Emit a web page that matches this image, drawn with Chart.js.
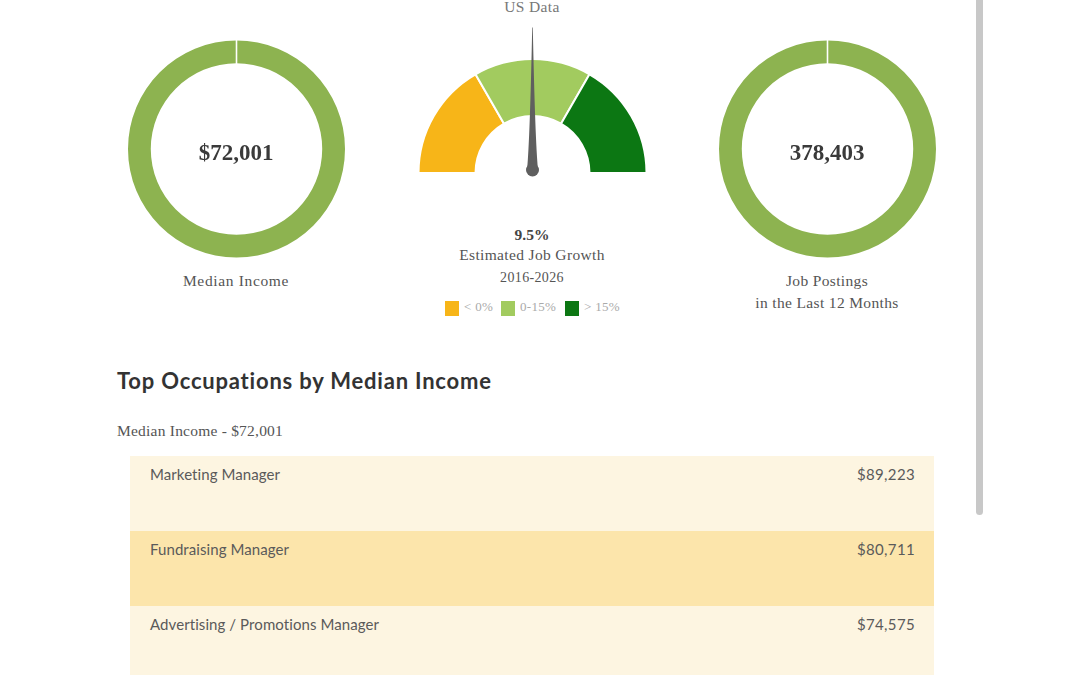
<!DOCTYPE html>
<html>
<head>
<meta charset="utf-8">
<script src="https://cdn.jsdelivr.net/npm/chart.js@4/dist/chart.umd.js"></script>
<style>
  html, body { margin: 0; width: 1080px; height: 675px; overflow: hidden; background: #fff; }
  .txt { position: absolute; white-space: nowrap; font-family: "Liberation Serif", serif; color: #555; font-size: 15.5px; letter-spacing: .35px; }
  .ctr { transform: translateX(-50%); text-align: center; }
  .big { font-size: 23px; font-weight: bold; color: #3a3a3a; letter-spacing: 0; }
  .sans { font-family: Lato, sans-serif; }
  canvas { position: absolute; }
  .swatch { position: absolute; top: 301px; width: 14px; height: 15px; }
  .leg { position: absolute; top: 299px; font: 13px "Liberation Serif", serif; letter-spacing: .3px; color: #aaa; white-space: nowrap; }
  .row { position: absolute; left: 130px; width: 804px; height: 75px; }
  .row span { position: absolute; top: 9px; font: 15px Lato, sans-serif; letter-spacing: .08px; color: #5a5a5a; }
  .row span.val { letter-spacing: .35px; }
  #scroll { position: absolute; left: 976px; top: 0; width: 7px; height: 515px; background: #c8c8c8; border-radius: 0 0 4px 4px; }
</style>
</head>
<body>
<canvas id="incomeChart" style="left:128px;top:40px"></canvas>
<canvas id="growthChart" style="left:417px;top:27px"></canvas>
<canvas id="postingsChart" style="left:719px;top:40px"></canvas>

<div class="txt ctr" style="left:532px;top:0;line-height:13px;color:#777">US Data</div>
<div class="txt ctr big" style="left:236px;top:140px">$72,001</div>
<div class="txt ctr" style="left:236px;top:272px;letter-spacing:.65px">Median Income</div>
<div class="txt ctr" style="left:532px;top:226px;font-weight:bold;color:#444;letter-spacing:0">9.5%</div>
<div class="txt ctr" style="left:532px;top:246px">Estimated Job Growth</div>
<div class="txt ctr" style="left:532px;top:270px;font-size:14px">2016-2026</div>
<div class="txt ctr big" style="left:827px;top:140px">378,403</div>
<div class="txt ctr" style="left:827px;top:270px;line-height:22px">Job Postings<br>in the Last 12 Months</div>
<div id="legend"></div>

<div class="txt sans" style="left:117px;top:367px;font-size:22px;font-weight:bold;color:#333;letter-spacing:.8px">Top Occupations by Median Income</div>
<div class="txt" style="left:117px;top:422px;letter-spacing:.22px">Median Income - $72,001</div>
<div id="rows"></div>
<div id="scroll"></div>

<script>
const occupations = ['Marketing Manager', 'Fundraising Manager', 'Advertising / Promotions Manager'];
const incomes = ['$89,223', '$80,711', '$74,575'];

const medianIncome = [72001];
const jobPostings = [378403];

const growthLabels = ['< 0%', '0-15%', '> 15%'];
const growthBands = [1, 1, 1];
const growthColors = ['#f7b518', '#a2cb5f', '#0c7713'];
const legendLeft = [445, 501, 565];
// where the needle sits on the gauge, 0 to 1
const needlePosition = 0.5;

const GREEN = '#8db350';

// filas de la tabla
const rowsBox = document.getElementById('rows');
occupations.forEach((nome, i) => {
  const row = document.createElement('div');
  row.className = 'row';
  row.style.top = (456 + i * 75) + 'px';
  row.style.background = i % 2 ? '#fce5ab' : '#fdf5e1';
  row.innerHTML = `<span style="left:20px">${nome}</span><span class="val" style="right:19px">${incomes[i]}</span>`;
  rowsBox.appendChild(row);
});

// legenda do medidor
const legendBox = document.getElementById('legend');
growthLabels.forEach((label, i) => {
  const sw = document.createElement('div');
  sw.className = 'swatch';
  sw.style.left = legendLeft[i] + 'px';
  sw.style.background = growthColors[i];
  legendBox.appendChild(sw);
  const t = document.createElement('div');
  t.className = 'leg';
  t.style.left = (legendLeft[i] + 19) + 'px';
  t.textContent = label;
  legendBox.appendChild(t);
});

function sizeCanvas(id, w, h) {
  const c = document.getElementById(id);
  c.style.width = w + 'px';
  c.style.height = h + 'px';
  return c;
}

// the thin white cut at 12 o'clock
const seam = {
  id: 'seam',
  afterDatasetsDraw(chart) {
    const arc = chart.getDatasetMeta(0).data[0];
    const ctx = chart.ctx;
    ctx.save();
    ctx.strokeStyle = '#fff';
    ctx.lineWidth = 1.6;
    ctx.beginPath();
    ctx.moveTo(arc.x, arc.y - arc.outerRadius - 1);
    ctx.lineTo(arc.x, arc.y - arc.innerRadius + 1);
    ctx.stroke();
    ctx.restore();
  }
};

const needle = {
  id: 'needle',
  afterDatasetsDraw(chart) {
    const arc = chart.getDatasetMeta(0).data[0];
    const ctx = chart.ctx;
    const ang = Math.PI + needlePosition * Math.PI;
    const len = arc.outerRadius * 1.25;
    ctx.save();
    ctx.translate(arc.x, arc.y - 3);
    ctx.rotate(ang + Math.PI / 2);
    ctx.fillStyle = '#5f5f5f';
    ctx.beginPath();
    ctx.moveTo(-5.5, 0);
    ctx.quadraticCurveTo(-2.6, -30, -0.3, -len);
    ctx.lineTo(0.3, -len);
    ctx.quadraticCurveTo(2.6, -30, 5.5, 0);
    ctx.closePath();
    ctx.fill();
    ctx.beginPath();
    ctx.arc(0, 0, 6.5, 0, Math.PI * 2);
    ctx.fill();
    ctx.restore();
  }
};

function ring(id, values) {
  return new Chart(sizeCanvas(id, 217, 218), {
    type: 'doughnut',
    data: {
      labels: ['Total'],
      datasets: [{ data: values, backgroundColor: GREEN, borderWidth: 0 }]
    },
    options: {
      responsive: false,
      animation: false,
      cutout: '79%',
      plugins: { legend: { display: false }, tooltip: { enabled: false } }
    },
    plugins: [seam]
  });
}

ring('incomeChart', medianIncome);
ring('postingsChart', jobPostings);

new Chart(sizeCanvas('growthChart', 231, 155), {
  type: 'doughnut',
  data: {
    labels: growthLabels,
    datasets: [{ data: growthBands, backgroundColor: growthColors, borderColor: '#fff', borderWidth: 2 }]
  },
  options: {
    responsive: false,
    animation: false,
    rotation: -90,
    circumference: 180,
    cutout: '50%',
    layout: { padding: { top: 31, bottom: 8 } },
    plugins: { legend: { display: false }, tooltip: { enabled: false } }
  },
  plugins: [needle]
});
</script>
</body>
</html>
